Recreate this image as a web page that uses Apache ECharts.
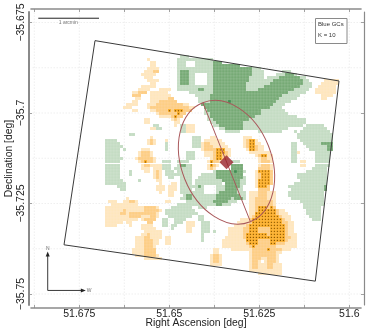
<!DOCTYPE html>
<html><head><meta charset="utf-8">
<style>html,body{margin:0;padding:0;background:#fff}#c{width:374px;height:336px}</style>
<script src="https://cdn.jsdelivr.net/npm/echarts@6/dist/echarts.min.js"></script>
</head><body><div id="c"></div>
<script>
// Map cells, as "row:firstCol-lastCol ..." for each shade; darker shades are painted over lighter ones.
const lightGreen = ["5:40-42","6:39-50","7:39-41 45-50","8:39-41 45-50","9:39-50 64-66","10:39-50 63-67 74-76","11:39-44 49-50 63-67 72-78","12:39-44 49-50 63-67 69-73 79-81","13:39-44 49-50 63-70 79-82","14:39-44 49-50 62-70 80-83","15:39-50 62-68 79-83","16:39-50 62-66 77-82","17:43-50 62-63 76-81","18:45-50 74-79","19:46-50 72-78","20:46-50 71-76","21:71-74","22:69-73","23:48-49 66-74","24:48-49 66-75","25:49 64-78","26:49-50 62-81","27:50-51 60-81","28:31-32 40-41 51-52 61-80 82-87","29:31-32 33 40-41 53-54 61-75 81-88","30:40-41 55-59 66-73 78 80-89","31:23-24 79-90","32:44-46 79-90","33:15-18 35 44-46 80-90","34:15-19 35 44-46 77-78 81-90","35:15-20 35 44-46 77-78 82-90","36:15-19 21 35 77-78 83-90","37:15-19 42-44 77-78 85-89","38:15-19 42-44 77-78 85-89","39:15-20 42-44 77-78 85-89","40:15-19 34-36 39-42 57-59 77-78 85-89","41:15-19 34-36 39-43 85-89","42:15-19 34-36 38-43 84-88","43:15-19 23 35-37 39-43 51-61 82-88","44:15-19 23 35-43 47-51 79-88","45:15-19 36-37 40-43 46-52 60-61 79-88","46:15-20 26 40-43 45-53 59-61 80-88","47:15-21 40-43 45-53 59-61 78-88","48:19-21 40-47 52-54 59-60 76-88","49:20-21 40-43 45-47 52-54 58-60 77-88","50:40-47 52-53 58-61 76-87","51:41-51 59-61 76-87","52:40-51 56-58 60-61 77-87","53:42-51 55-58 80-87","54:39-51 54-56 81-87","55:37-43 46-48 81-86","56:35-44 82-86","57:35-45 82-86","58:36-43 46-47 83-86","59:34-35 38-41 46-47 84-86","60:34-35 38-40 47-49","61:34-35 37-38 47-49","62:37 47-49","63:47-49 51","64:47","65:47","66:47"];
const darkGreen = ["7:51-53","8:51-59","9:51-63","10:40-42 51-63","11:40-42 51-63 75-77","12:40-42 51-62 73-79","13:40-42 51-62 71-80","14:40-42 51-61 70-80","15:51-61 68-79","16:46-47 51-61 66-77","17:51-75","18:50-73","19:50-72","20:50-71","21:47-70","22:48-69","23:49-66","24:50-66","25:50-64","26:51-62","27:52-60","28:53-60","29:55-57 58-60","34:87-90","35:89-90","36:89-90","41:40-41 57-60","42:57-60","43:52-60","44:52-60","45:52-60","46:54-59","47:55-59","48:46 55-59 88","49:55-58 88","50:53-58","51:42-43 52-59","52:42-43 52-56 58-60","53:51-55","54:52-53"];
const deepGreen = ["20:56","43:58"];
const lightOrange = ["6:29","7:30-31","8:30-31","9:29-32","10:28-32","11:27-31","12:28-30","13:29-32 88-92","14:30-31 87-92","15:27-31 86-91","16:26-29 33-36 85-91","17:24-28 30-35 85-91","18:24-26 30-36 87-90","19:25-26 30-37 87-88","20:24-25 30-38","21:22-25 29-42","22:21-23 29-44","23:24-25 30-43","24:32-41","25:33-40","26:28-29 37-39","27:28-29 38-39","28:38 42-44","29:30-31 42-44","30:42-44","32:30 50-51 61-63","33:29-31 35 48-53 61-65","34:29-31 47-54 61-66","35:47-55 61-67","36:27-29 47-56 62-67","37:26-30 48-56 63-69 79","38:26-30 48-56 65-70","39:25-31 50-55 66-70","40:26-31 49-53 66-70 80-81","41:27-33 49-52 66-70 80-81","42:27-29 31-33 49-51 66-70","43:28-29 31-33 65-70","44:31-33 65-70","45:31-33 65-70","46:32-33 65-70","47:33 37-38 65-70","48:32-34 36-38 65-69","49:32-34 36-38 66-69","50:33 36-37 63-71","51:36-37 63-71","52:22 63-71","53:16-18 21-25 35-36 63-71","54:17-25 63-71","55:15-32 63-71","56:15-33 63-74","57:15-32 63-75","58:15-32 63-76","59:15-25 27-31 60-76","60:15-20 22-23 29-30 42-44 59-77","61:15-18 23 27-30 42-44 58-77","62:27-31 42-43 56-77","63:28-33 42-43 56-77","64:27-33 56-78","65:25-33 35-36 55-78","66:25-32 35-36 54-78","67:25-32 35-36 54-78","68:25-31 54-78","69:24-31 51-52 57-76","70:24-31 51-52 63-73","71:25-32 50-53 63-72","72:28-33 50-53 63-72","73:50-53 63-66 68-72","74:50-53 63-73","75:63-73","76:63-73","77:66-73"];
const midOrange = ["10:31-32","17:26-28","18:24-26","19:36-37","20:33-38","21:32-40","22:30-42","23:32-43","24:33-41","25:37-40","26:38","33:30 62-64","34:30 48-49 62-64","35:48-50 62-65","36:48-54 63-65","37:27-29 51-55","38:27-29 51-55 66-68","39:26-30 51-54 67-68","40:27-30 50-52 67-69","41:28-29 50-51 67-69","42:50 66-69","43:32 66-70","44:32 66-70","45:32 66-70","46:66-70","47:66-70","48:66-69","49:66-69","50:66-68","51:66-68","52:65-68","53:23-24 65-70","54:65-70","55:28-31 65-71","56:21 28-32 65-72","57:20-21 23-31 65-72","58:23-26 30-31 64-73","59:28-31 63-74","60:29-30 63-75","61:62-75","62:61-75","63:61-75","64:29 61-75","65:28-29 61-76","66:28-30 62-75","67:28-30 62-74","68:28-30 63-71","69:28-31 64-73","70:28-31 64-71","71:28-31 51-52 64-71","72:51-52 64-66 69-71","73:51-52 64-65 69-71","74:64-65 69-70","75:64-65 69-70"];
const deepOrange = ["23:36 38-40","24:39","25:38","33:63-64","34:63-64","35:63-64","36:52-54 63-64","37:52-54","38:52-53 67-68","39:52-53","40:28 50","41:50","43:66-69","44:67-69","45:67-69","46:66-69","47:66-69","48:66-68","55:66-68 70","56:66-71","57:65-71","58:65-72","59:64-73","60:64-73","61:63-74","62:63-65 70-74","63:63-65 70-74","64:62-68 70-74","65:62-69 70-74","66:62-65 70-74","67:63-65 70-71","68:64","69:69"];
const shadeColors = ["#c4dcc3","#76aa75","#3f8d50","#fee6bd","#fdce84","#fbab22"];
const gridOriginRA = 51.68036, gridOriginDec = -35.6798, cellDeg = 0.000833;
const raTicks = [51.6875,51.675,51.6625,51.65,51.6375,51.625,51.6125,51.6];
const raLabels = [51.675,51.65,51.625,51.6];
const decTicks = [-35.675,-35.7,-35.725,-35.75];
const decGrid = [-35.675,-35.6875,-35.7,-35.7125,-35.725,-35.7375,-35.75];
const footprint = [[51.67064,-35.68001],[51.60286,-35.69115],[51.60944,-35.74645],[51.67925,-35.73641],[51.67064,-35.68001]];
const majorAxis = [[51.64064,-35.69724],[51.6275,-35.72994]];
const ellipseCentre = [51.63411,-35.7136], ellipseSemiAxes = [0.0125,0.0177], ellipseTiltDeg = 21.8;
const scaleBar = [[51.68639,-35.67382],[51.66953,-35.67382]];
const scaleLabelAt = [51.67806,-35.67492];
const compassOrigin = [51.68378,-35.74902], compassN = [51.68378,-35.73898], compassW = [51.67389,-35.74902];
const compassNLabel = [51.68378,-35.7376], compassWLabel = [51.6723,-35.74894];
const xMin = 51.59675, xMax = 51.68842, yMin = -35.75304, yMax = -35.6721;

const cells = new Map();
[lightGreen,darkGreen,deepGreen,lightOrange,midOrange,deepOrange].forEach((runs,shade)=>{
  runs.forEach(s=>{
    const [r,list]=s.split(':');
    list.split(' ').forEach(t=>{
      const p=t.split('-').map(Number), a=p[0], b=p.length>1?p[1]:p[0];
      for(let c=a;c<=b;c++) cells.set(c+','+r,[gridOriginRA-c*cellDeg,gridOriginDec-(+r)*cellDeg,shade]);
    });
  });
});
const cellData=[...cells.values()];
const dotData=cellData.filter(d=>d[2]===5).map(d=>[d[0]-cellDeg/2,d[1]-cellDeg/2]);

const font='"Liberation Sans", Arial, sans-serif';
const spine='#8a8a8a';
const gridStyle={show:false};
const chart=echarts.init(document.getElementById('c'),null,{renderer:'canvas'});
const lineS=(data,color,width,z)=>({type:'line',data,symbol:'none',silent:true,animation:false,z:z||5,lineStyle:{color,width},itemStyle:{color}});
const gridLines=[
  ...raTicks.map(v=>lineS([[v,yMin],[v,yMax]],'#e4e4e4',0.6,1)),
  ...decGrid.map(v=>lineS([[xMin,v],[xMax,v]],'#e4e4e4',0.6,1))
];
gridLines.forEach(s=>{s.lineStyle.type=[1.5,1.5];});
const mk=(pt,text,size,color)=>({type:'scatter',data:[pt],symbolSize:0,silent:true,animation:false,z:8,
  label:{show:true,position:'inside',formatter:text,fontFamily:font,fontSize:size,color}});
chart.setOption({
  animation:false,
  grid:{left:31,right:13,top:12,bottom:31,containLabel:false,outerBoundsMode:'none'},
  xAxis:[{type:'value',inverse:true,min:xMin,max:xMax,position:'bottom',offset:3,
    name:'Right Ascension [deg]',nameLocation:'middle',nameGap:10,nameMoveOverlap:false,nameTextStyle:{fontFamily:font,fontSize:10.4,color:'#222'},
    axisLine:{show:true,onZero:false,lineStyle:{color:spine,width:1.6}},
    axisTick:{show:true,inside:true,length:3,customValues:raTicks,lineStyle:{color:spine,width:0.8}},
    axisLabel:{show:true,customValues:raLabels,margin:1,fontFamily:font,fontSize:10.5,color:'#222',formatter:v=>String(+(+v).toFixed(3)),hideOverlap:false,showMinLabel:true,showMaxLabel:true},
    splitLine:gridStyle},
   {type:'value',inverse:true,min:xMin,max:xMax,position:'top',offset:3,
    axisLine:{show:true,onZero:false,lineStyle:{color:spine,width:1.6}},
    axisTick:{show:true,inside:true,length:3,customValues:raTicks,lineStyle:{color:spine,width:0.8}},
    axisLabel:{show:false},splitLine:gridStyle}],
  yAxis:[{type:'value',min:yMin,max:yMax,position:'left',offset:2.5,
    name:'Declination [deg]',nameLocation:'middle',nameGap:14,nameMoveOverlap:false,nameTextStyle:{fontFamily:font,fontSize:10.4,color:'#222'},
    axisLine:{show:true,onZero:false,lineStyle:{color:spine,width:2}},
    axisTick:{show:true,inside:true,length:3.5,customValues:decTicks,lineStyle:{color:spine,width:0.8}},
    axisLabel:{show:true,customValues:decTicks,rotate:90,margin:2,fontFamily:font,fontSize:10.5,color:'#222',formatter:v=>String(+(+v).toFixed(3)).replace('-','\u2212'),showMinLabel:true,showMaxLabel:true},
    splitLine:gridStyle},
   {type:'value',min:yMin,max:yMax,position:'right',offset:3,
    axisLine:{show:true,onZero:false,lineStyle:{color:spine,width:1.2}},
    axisTick:{show:true,inside:true,length:3,customValues:decTicks,lineStyle:{color:spine,width:0.8}},
    axisLabel:{show:false},splitLine:gridStyle}],
  graphic:[
    {type:'rect',shape:{x:315.5,y:18.5,width:31.5,height:25},style:{fill:'#fff',stroke:'#8a8a8a',lineWidth:1},z:20},
    {type:'text',x:318,y:21.5,style:{text:'Blue GCs',font:'6px '+font,fill:'#333'},z:21},
    {type:'text',x:318,y:32,style:{text:'K = 10',font:'6px '+font,fill:'#333'},z:21}
  ],
  series:[
    ...gridLines,
    {type:'custom',data:cellData,z:2,silent:true,animation:false,clip:true,encode:{x:0,y:1},
     renderItem:(p,api)=>{
       const a=api.coord([api.value(0),api.value(1)]),s=api.size([cellDeg,cellDeg]);
       return {type:'rect',shape:{x:Math.round(a[0]),y:Math.round(a[1]),width:Math.round(s[0]),height:Math.round(s[1])},
         style:{fill:shadeColors[api.value(2)],stroke:'rgba(255,255,255,0.16)',lineWidth:0.5}};
     }},
    {type:'scatter',data:dotData,symbol:'circle',symbolSize:1.3,silent:true,animation:false,z:3,itemStyle:{color:'#6b4300'}},
    lineS(footprint,'#3a3a3a',1,6),
    {type:'custom',data:[ellipseCentre],z:6,silent:true,animation:false,encode:{x:0,y:1},
     renderItem:(p,api)=>{
       const c=api.coord([api.value(0),api.value(1)]),s=api.size(ellipseSemiAxes);
       return {type:'ellipse',x:c[0],y:c[1],rotation:ellipseTiltDeg*Math.PI/180,
         shape:{cx:0,cy:0,rx:s[0],ry:s[1]},style:{fill:'none',stroke:'#a9575a',lineWidth:1}};
     }},
    lineS(majorAxis,'#a9575a',1,6),
    {type:'scatter',data:[ellipseCentre],symbol:'diamond',symbolSize:[14,14],silent:true,animation:false,z:7,itemStyle:{color:'#99222a'}},
    lineS(scaleBar,'#222',1,7),
    mk(scaleLabelAt,'1 arcmin',5,'#555'),
    {type:'line',silent:true,animation:false,z:7,showAllSymbol:true,symbol:'none',lineStyle:{color:'#222',width:0.9},
     data:[{value:compassOrigin},{value:compassN,symbol:'triangle',symbolSize:[4,5],itemStyle:{color:'#222'}}]},
    {type:'line',silent:true,animation:false,z:7,showAllSymbol:true,symbol:'none',lineStyle:{color:'#222',width:0.9},
     data:[{value:compassOrigin},{value:compassW,symbol:'triangle',symbolSize:[4,5],symbolRotate:-90,itemStyle:{color:'#222'}}]},
    mk(compassNLabel,'N',5,'#444'),
    mk(compassWLabel,'W',5,'#444')
  ]
});
</script></body></html>
